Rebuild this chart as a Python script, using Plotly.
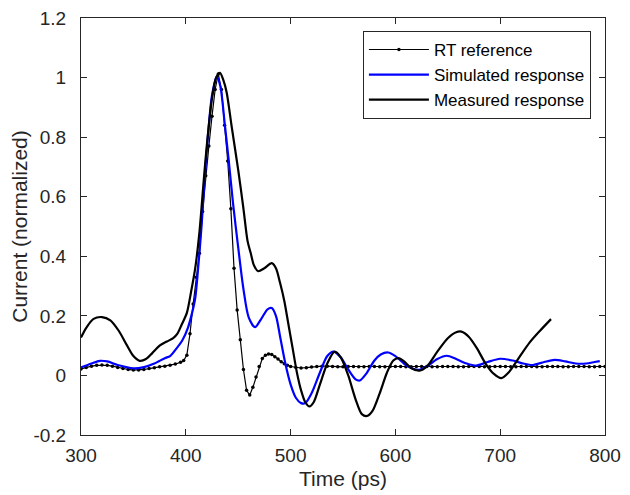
import plotly.graph_objects as go

# RT reference (sampled, with markers)
rt_time = [300, 305, 310, 315, 320, 325, 330, 335, 340, 345, 350, 355, 360, 365, 370, 375, 380, 385, 390, 395,
           398, 401, 404, 407, 410, 413, 416, 419, 422, 425, 428, 431, 434, 437, 440, 443, 446, 449, 452, 455,
           458, 461, 464, 467, 470, 473, 476, 479, 482, 485, 488, 491, 494, 497, 500,
           505, 510, 515, 520, 525, 530, 535, 540, 545, 550, 555, 560, 565, 570, 575, 580, 585, 590, 595, 600,
           605, 610, 615, 620, 625, 630, 635, 640, 645, 650, 655, 660, 665, 670, 675, 680, 685, 690, 695, 700,
           705, 710, 715, 720, 725, 730, 735, 740, 745, 750, 755, 760, 765, 770, 775, 780, 785, 790, 795, 800]
rt_value = [0.022, 0.027, 0.031, 0.034, 0.035, 0.034, 0.031, 0.027, 0.023, 0.020, 0.018, 0.018, 0.020, 0.023,
            0.026, 0.029, 0.031, 0.034, 0.038, 0.044,
            0.050, 0.068, 0.14, 0.24, 0.33, 0.41, 0.55, 0.67, 0.77, 0.87, 0.96, 1.012, 0.96, 0.84, 0.72, 0.56,
            0.36, 0.22, 0.12, 0.02, -0.05, -0.066, -0.04, -0.005, 0.03, 0.057, 0.068, 0.072, 0.070, 0.063,
            0.055, 0.046, 0.039, 0.034, 0.030,
            0.027, 0.025, 0.026, 0.028, 0.030, 0.031, 0.031, 0.030, 0.029, 0.029, 0.030, 0.030, 0.029, 0.029,
            0.030, 0.030, 0.029, 0.029, 0.030, 0.030, 0.030, 0.029, 0.029, 0.030, 0.030, 0.030, 0.029, 0.029,
            0.030, 0.030, 0.030, 0.029, 0.029, 0.030, 0.030, 0.030, 0.029, 0.029, 0.030, 0.030, 0.030, 0.029,
            0.029, 0.030, 0.030, 0.030, 0.029, 0.029, 0.030, 0.030, 0.030, 0.029, 0.029, 0.030, 0.030, 0.030,
            0.029, 0.029, 0.030, 0.030]

# Simulated response
sim_time = [300, 310, 318, 325, 335, 350, 360, 370, 380, 385, 391, 397, 402, 406, 409, 412, 415, 418, 421.5,
            425, 429.5, 433, 437, 441, 445, 450, 455, 460, 466, 472, 478, 482, 486, 490, 495, 500, 505, 510,
            514, 520, 528, 535, 541, 548, 555, 562, 566, 572, 580, 586, 593, 600, 610, 617, 623, 630, 640, 649,
            658, 668, 677, 688, 700, 712, 722, 731, 742, 752, 762, 772, 782, 790, 795]
sim_value = [0.027, 0.040, 0.049, 0.047, 0.035, 0.024, 0.028, 0.040, 0.058, 0.065, 0.090, 0.120, 0.160,
             0.210, 0.260, 0.370, 0.500, 0.660, 0.820, 0.940, 1.003, 0.970, 0.850, 0.720, 0.580, 0.430,
             0.290, 0.195, 0.162, 0.190, 0.222, 0.226, 0.200, 0.130, 0.040, -0.030, -0.075, -0.093,
             -0.093, -0.060, 0.010, 0.065, 0.080, 0.060, 0.020, -0.013, -0.017, 0.005, 0.050, 0.070, 0.077,
             0.065, 0.035, 0.022, 0.019, 0.030, 0.055, 0.066, 0.055, 0.040, 0.033, 0.045, 0.056, 0.050,
             0.040, 0.035, 0.045, 0.052, 0.047, 0.040, 0.040, 0.045, 0.048]

# Measured response
meas_time = [300, 305, 312, 320, 328, 336, 344, 350, 356, 362, 368, 375, 382, 388, 392, 396, 401, 405, 409,
             413, 417, 420, 425, 429, 432.6, 436, 439, 444, 450, 455, 459, 462, 465, 469, 475, 482, 486, 490,
             494, 498, 502, 506, 510, 514, 518, 522, 528, 535, 542, 548, 555, 562, 568, 573, 578, 585, 592,
             598, 603, 608, 615, 623, 630, 640, 650, 658, 663, 670, 678, 686, 694, 701, 708, 718, 728, 738,
             748.5]
meas_value = [0.127, 0.160, 0.190, 0.196, 0.185, 0.150, 0.100, 0.065, 0.049, 0.055, 0.075, 0.100, 0.114,
              0.125, 0.140, 0.170, 0.210, 0.280, 0.360, 0.480, 0.650, 0.770, 0.930, 1.000, 1.016, 0.990,
              0.950, 0.830, 0.690, 0.560, 0.450, 0.410, 0.370, 0.350, 0.360, 0.377, 0.360, 0.310, 0.250,
              0.170, 0.090, 0.010, -0.050, -0.090, -0.104, -0.090, -0.030, 0.040, 0.080, 0.060, 0.000,
              -0.080, -0.130, -0.136, -0.120, -0.060, 0.010, 0.050, 0.058, 0.048, 0.025, 0.016, 0.030,
              0.080, 0.125, 0.145, 0.147, 0.130, 0.090, 0.040, 0.005, -0.009, 0.010, 0.060, 0.110, 0.150,
              0.189]

x_ticks = [300, 400, 500, 600, 700, 800]
y_ticks = [-0.2, 0, 0.2, 0.4, 0.6, 0.8, 1, 1.2]
y_tick_labels = ["-0.2", "0", "0.2", "0.4", "0.6", "0.8", "1", "1.2"]

FONT = "Liberation Sans, Arial, Helvetica, sans-serif"

fig = go.Figure()
fig.add_trace(go.Scatter(x=rt_time, y=rt_value, mode="lines+markers", name="RT reference",
                         line=dict(color="black", width=1.2),
                         marker=dict(color="black", size=3.5, symbol="circle")))
fig.add_trace(go.Scatter(x=sim_time, y=sim_value, mode="lines", name="Simulated response",
                         line=dict(color="#0000FF", width=2.2, shape="spline", smoothing=0.8)))
fig.add_trace(go.Scatter(x=meas_time, y=meas_value, mode="lines", name="Measured response",
                         line=dict(color="black", width=2.2, shape="spline", smoothing=0.8)))

axis_common = dict(showline=True, linecolor="#262626", linewidth=1, mirror="ticks",
                   ticks="inside", ticklen=6, tickcolor="#262626", showgrid=False, zeroline=False,
                   automargin=False, ticklabeloverflow="allow",
                   tickfont=dict(family=FONT, size=19, color="#262626"),
                   title_font=dict(family=FONT, size=21, color="#262626"))

fig.update_xaxes(range=[300, 800], tickvals=x_ticks, title_text="Time (ps)", title_standoff=6,
                 ticklabelstandoff=3, **axis_common)
fig.update_yaxes(range=[-0.2, 1.2], tickvals=y_ticks, ticktext=y_tick_labels,
                 title_text="Current (normalized)", title_standoff=4, ticklabelstandoff=10,
                 **axis_common)

# page body has an 8px default margin: compensate so the plot lands where the reference has it
fig.update_layout(
    width=622, height=487,
    margin=dict(l=73, r=25, t=10, b=60),
    paper_bgcolor="white", plot_bgcolor="white",
    showlegend=True,
    legend=dict(x=0.538, y=0.969, xanchor="left", yanchor="top",
                bgcolor="white", bordercolor="#262626", borderwidth=1,
                itemwidth=60,
                font=dict(family=FONT, size=17, color="black"),
                tracegroupgap=0),
)

fig.write_html("out.html")
